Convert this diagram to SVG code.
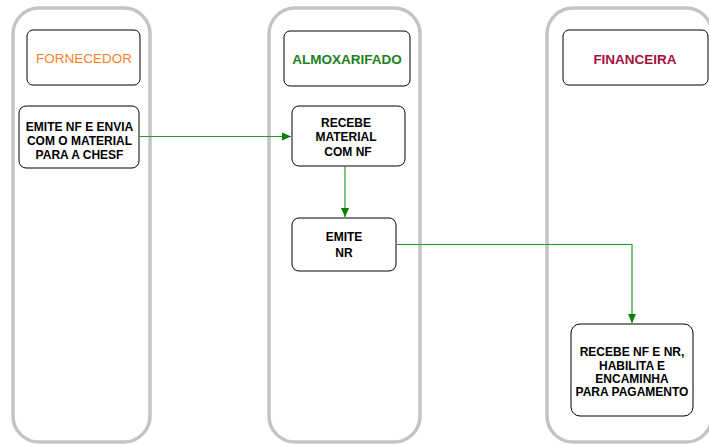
<svg xmlns="http://www.w3.org/2000/svg" width="709" height="445" viewBox="0 0 709 445">
<defs>
<style>
.lane{fill:#fff;stroke:#c4c4c4;stroke-width:3.5}
.box{fill:#fff;stroke:#000;stroke-width:1}
.t{font-family:"Liberation Sans",Arial,sans-serif;font-size:12px;font-weight:bold;text-anchor:middle;fill:#000}
.h{font-family:"Liberation Sans",Arial,sans-serif;font-size:13.5px;text-anchor:middle}
.c{fill:none;stroke:#2e9a2e;stroke-width:1.2}
</style>
<marker id="ah" markerWidth="10" markerHeight="10" refX="9" refY="5" orient="auto" markerUnits="userSpaceOnUse">
<path d="M0,1 L9,5 L0,9 z" fill="#008000"/>
</marker>
</defs>
<rect width="709" height="445" fill="#fff"/>
<g id="lane-fornecedor"><rect class="lane" x="13" y="8" width="137" height="434" rx="26"/></g>
<g id="lane-almoxarifado"><rect class="lane" x="269" y="8" width="151" height="434" rx="26"/></g>
<g id="lane-financeira"><rect class="lane" x="547" y="8" width="165" height="434" rx="26"/></g>

<g id="h-fornecedor"><rect class="box" x="27" y="30" width="113" height="55" rx="6"/><text class="h" x="84" y="63" fill="#ff7f27">FORNECEDOR</text></g>
<g id="h-almoxarifado"><rect class="box" x="284" y="31" width="126" height="55" rx="6"/><text class="h" x="347" y="64" fill="#1e7f1e" font-weight="bold">ALMOXARIFADO</text></g>
<g id="h-financeira"><rect class="box" x="563" y="30" width="145" height="55" rx="6"/><text class="h" x="635" y="64" fill="#a3103e" font-weight="bold" font-size="16.5">FINANCEIRA</text></g>

<g id="n-emite-nf"><rect class="box" x="19" y="106" width="120" height="62" rx="7"/>
<text class="t" x="79.5" y="131">EMITE NF E ENVIA</text><text class="t" x="79.5" y="145">COM O MATERIAL</text><text class="t" x="79.5" y="159">PARA A CHESF</text></g>
<g id="n-recebe"><rect class="box" x="292" y="106" width="113" height="60" rx="7"/>
<text class="t" x="346" y="127">RECEBE</text><text class="t" x="346" y="141">MATERIAL</text><text class="t" x="348" y="156">COM NF</text></g>
<g id="n-emite-nr"><rect class="box" x="292" y="218" width="104" height="53" rx="7"/>
<text class="t" x="344" y="241">EMITE</text><text class="t" x="344" y="257">NR</text></g>
<g id="n-recebe-nf"><rect class="box" x="571" y="324" width="122" height="92" rx="9"/>
<text class="t" x="632" y="356">RECEBE NF E NR,</text><text class="t" x="632" y="370">HABILITA E</text><text class="t" x="632" y="383">ENCAMINHA</text><text class="t" x="632" y="396">PARA PAGAMENTO</text></g>

<g id="connectors">
<path class="c" d="M139,136.5 H291" marker-end="url(#ah)"/>
<path class="c" d="M345,166 V217" marker-end="url(#ah)"/>
<path class="c" d="M396,244.5 H632 V323" marker-end="url(#ah)"/>
</g>
</svg>
